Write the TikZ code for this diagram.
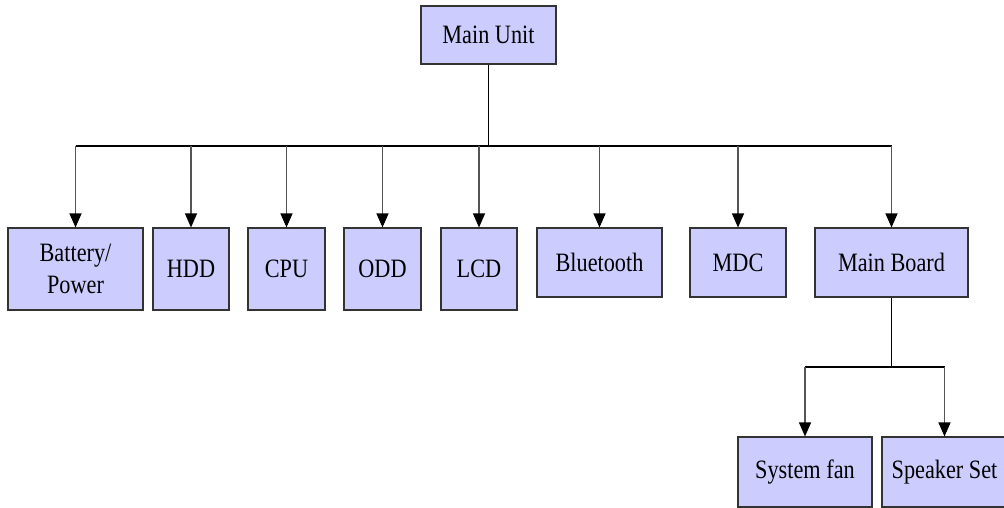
\documentclass[tikz,border=0pt]{standalone}
\usepackage{fontspec}
\setmainfont{Liberation Serif}[FakeStretch=0.84]
\usetikzlibrary{arrows.meta}
\definecolor{boxfill}{HTML}{CCCCFF}
\definecolor{boxline}{HTML}{333333}
\definecolor{dropline}{HTML}{555555}
\begin{document}
\begin{tikzpicture}[x=1pt,y=-1pt,
  unitbox/.style={draw=boxline,line width=1.1pt,fill=boxfill,inner sep=0pt,align=center,
    font=\fontsize{26.5}{32.4}\selectfont},
  busline/.style={draw=black,line width=1.4pt},
  dropline/.style={draw=dropline,line width=1.1pt,-{Triangle[length=14pt,width=12pt,color=black]}},
]
\useasboundingbox (0,0) rectangle (1004,508);
\fill[white] (0,0) rectangle (1004,508);
\node[unitbox,minimum width=135pt,minimum height=58pt] (main) at (488.5,35) {Main Unit};
\node[unitbox,minimum width=135pt,minimum height=82pt] (bat) at (75.5,269) {Battery/\\Power};
\node[unitbox,minimum width=76pt,minimum height=82pt] (hdd) at (191,269) {HDD};
\node[unitbox,minimum width=77pt,minimum height=82pt] (cpu) at (286.5,269) {CPU};
\node[unitbox,minimum width=77pt,minimum height=82pt] (odd) at (382.5,269) {ODD};
\node[unitbox,minimum width=76pt,minimum height=82pt] (lcd) at (479,269) {LCD};
\node[unitbox,minimum width=125pt,minimum height=69pt] (bt) at (599.5,262.5) {Bluetooth};
\node[unitbox,minimum width=96pt,minimum height=69pt] (mdc) at (738,262.5) {MDC};
\node[unitbox,minimum width=153pt,minimum height=69pt] (mb) at (891.5,262.5) {Main Board};
\node[unitbox,minimum width=134pt,minimum height=70pt] (fan) at (805,472) {System fan};
\node[unitbox,minimum width=125pt,minimum height=70pt] (spk) at (944.5,472) {Speaker Set};
\coordinate (j) at (488.5,146);
\coordinate (bl) at (75.5,146);
\coordinate (br) at (891.5,146);
\coordinate (k) at (891.5,367);
\draw[busline] (main.south) -- (j);
\draw[busline] (bl) -- (br);
\foreach \n in {bat,hdd,cpu,odd,lcd,bt,mdc,mb}{
  \draw[dropline] (\n.north |- j) -- (\n.north);
}
\draw[busline] (mb.south) -- (k);
\draw[draw=black,line width=1.1pt] (fan.north |- k) -- (spk.north |- k);
\draw[dropline] (fan.north |- k) -- (fan.north);
\draw[dropline] (spk.north |- k) -- (spk.north);
\end{tikzpicture}
\end{document}
